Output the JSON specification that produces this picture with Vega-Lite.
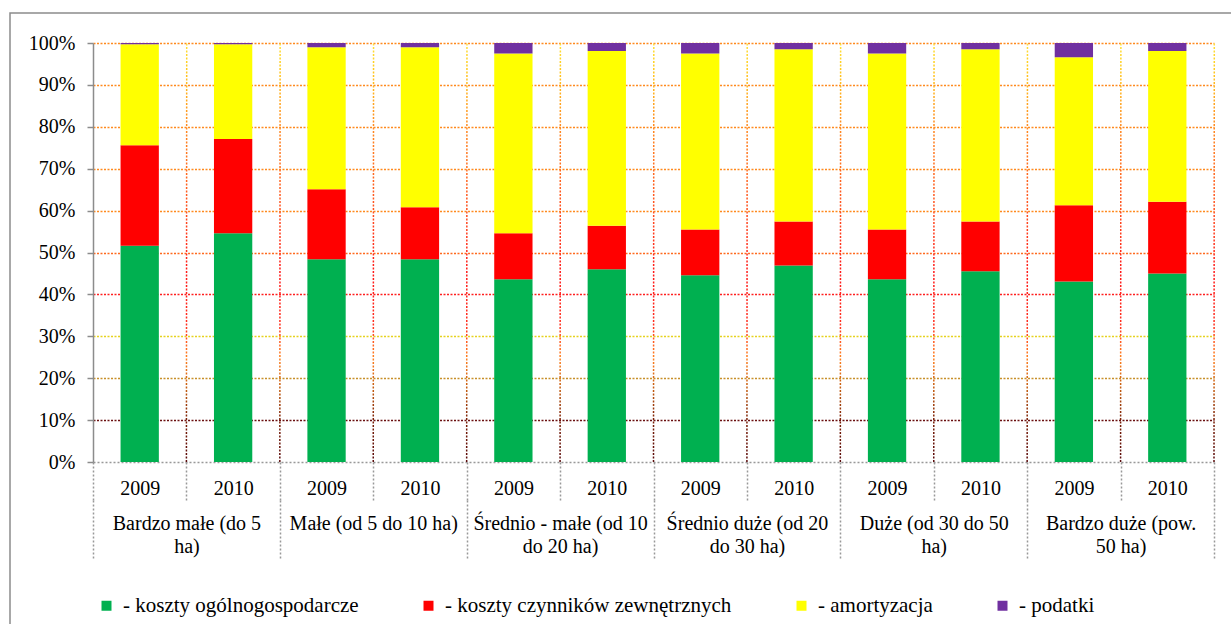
{
  "$schema": "https://vega.github.io/schema/vega-lite/v6.json",
  "width": 1224,
  "height": 614,
  "autosize": {"type": "none"},
  "padding": {"left": 10, "top": 13, "right": -3, "bottom": -3},
  "background": "white",
  "config": {
    "view": {"stroke": "#8c8c8c", "strokeWidth": 1.5},
    "font": "Liberation Serif",
    "axis": {"labelFont": "Liberation Serif", "labelFontSize": 20, "labelColor": "#000000"}
  },
  "data": {
    "values": [
      {"g": "Bardzo małe (do 5 ha)", "id": "a2009", "k": "koszty ogólnogospodarcze", "i": 1, "v": 51.6},
      {"g": "Bardzo małe (do 5 ha)", "id": "a2009", "k": "koszty czynników zewnętrznych", "i": 2, "v": 24.0},
      {"g": "Bardzo małe (do 5 ha)", "id": "a2009", "k": "amortyzacja", "i": 3, "v": 24.1},
      {"g": "Bardzo małe (do 5 ha)", "id": "a2009", "k": "podatki", "i": 4, "v": 0.3},
      {"g": "Bardzo małe (do 5 ha)", "id": "a2010", "k": "koszty ogólnogospodarcze", "i": 1, "v": 54.6},
      {"g": "Bardzo małe (do 5 ha)", "id": "a2010", "k": "koszty czynników zewnętrznych", "i": 2, "v": 22.5},
      {"g": "Bardzo małe (do 5 ha)", "id": "a2010", "k": "amortyzacja", "i": 3, "v": 22.6},
      {"g": "Bardzo małe (do 5 ha)", "id": "a2010", "k": "podatki", "i": 4, "v": 0.3},
      {"g": "Małe (od 5 do 10 ha)", "id": "b2009", "k": "koszty ogólnogospodarcze", "i": 1, "v": 48.4},
      {"g": "Małe (od 5 do 10 ha)", "id": "b2009", "k": "koszty czynników zewnętrznych", "i": 2, "v": 16.7},
      {"g": "Małe (od 5 do 10 ha)", "id": "b2009", "k": "amortyzacja", "i": 3, "v": 33.9},
      {"g": "Małe (od 5 do 10 ha)", "id": "b2009", "k": "podatki", "i": 4, "v": 1.0},
      {"g": "Małe (od 5 do 10 ha)", "id": "b2010", "k": "koszty ogólnogospodarcze", "i": 1, "v": 48.4},
      {"g": "Małe (od 5 do 10 ha)", "id": "b2010", "k": "koszty czynników zewnętrznych", "i": 2, "v": 12.4},
      {"g": "Małe (od 5 do 10 ha)", "id": "b2010", "k": "amortyzacja", "i": 3, "v": 38.2},
      {"g": "Małe (od 5 do 10 ha)", "id": "b2010", "k": "podatki", "i": 4, "v": 1.0},
      {"g": "Średnio - małe (od 10 do 20 ha)", "id": "c2009", "k": "koszty ogólnogospodarcze", "i": 1, "v": 43.6},
      {"g": "Średnio - małe (od 10 do 20 ha)", "id": "c2009", "k": "koszty czynników zewnętrznych", "i": 2, "v": 11.0},
      {"g": "Średnio - małe (od 10 do 20 ha)", "id": "c2009", "k": "amortyzacja", "i": 3, "v": 42.9},
      {"g": "Średnio - małe (od 10 do 20 ha)", "id": "c2009", "k": "podatki", "i": 4, "v": 2.5},
      {"g": "Średnio - małe (od 10 do 20 ha)", "id": "c2010", "k": "koszty ogólnogospodarcze", "i": 1, "v": 46.0},
      {"g": "Średnio - małe (od 10 do 20 ha)", "id": "c2010", "k": "koszty czynników zewnętrznych", "i": 2, "v": 10.4},
      {"g": "Średnio - małe (od 10 do 20 ha)", "id": "c2010", "k": "amortyzacja", "i": 3, "v": 41.7},
      {"g": "Średnio - małe (od 10 do 20 ha)", "id": "c2010", "k": "podatki", "i": 4, "v": 1.9},
      {"g": "Średnio duże (od 20 do 30 ha)", "id": "d2009", "k": "koszty ogólnogospodarcze", "i": 1, "v": 44.6},
      {"g": "Średnio duże (od 20 do 30 ha)", "id": "d2009", "k": "koszty czynników zewnętrznych", "i": 2, "v": 10.9},
      {"g": "Średnio duże (od 20 do 30 ha)", "id": "d2009", "k": "amortyzacja", "i": 3, "v": 42.0},
      {"g": "Średnio duże (od 20 do 30 ha)", "id": "d2009", "k": "podatki", "i": 4, "v": 2.5},
      {"g": "Średnio duże (od 20 do 30 ha)", "id": "d2010", "k": "koszty ogólnogospodarcze", "i": 1, "v": 46.9},
      {"g": "Średnio duże (od 20 do 30 ha)", "id": "d2010", "k": "koszty czynników zewnętrznych", "i": 2, "v": 10.5},
      {"g": "Średnio duże (od 20 do 30 ha)", "id": "d2010", "k": "amortyzacja", "i": 3, "v": 41.1},
      {"g": "Średnio duże (od 20 do 30 ha)", "id": "d2010", "k": "podatki", "i": 4, "v": 1.5},
      {"g": "Duże (od 30 do 50 ha)", "id": "e2009", "k": "koszty ogólnogospodarcze", "i": 1, "v": 43.6},
      {"g": "Duże (od 30 do 50 ha)", "id": "e2009", "k": "koszty czynników zewnętrznych", "i": 2, "v": 11.9},
      {"g": "Duże (od 30 do 50 ha)", "id": "e2009", "k": "amortyzacja", "i": 3, "v": 42.0},
      {"g": "Duże (od 30 do 50 ha)", "id": "e2009", "k": "podatki", "i": 4, "v": 2.5},
      {"g": "Duże (od 30 do 50 ha)", "id": "e2010", "k": "koszty ogólnogospodarcze", "i": 1, "v": 45.5},
      {"g": "Duże (od 30 do 50 ha)", "id": "e2010", "k": "koszty czynników zewnętrznych", "i": 2, "v": 11.9},
      {"g": "Duże (od 30 do 50 ha)", "id": "e2010", "k": "amortyzacja", "i": 3, "v": 41.1},
      {"g": "Duże (od 30 do 50 ha)", "id": "e2010", "k": "podatki", "i": 4, "v": 1.5},
      {"g": "Bardzo duże (pow. 50 ha)", "id": "f2009", "k": "koszty ogólnogospodarcze", "i": 1, "v": 43.1},
      {"g": "Bardzo duże (pow. 50 ha)", "id": "f2009", "k": "koszty czynników zewnętrznych", "i": 2, "v": 18.2},
      {"g": "Bardzo duże (pow. 50 ha)", "id": "f2009", "k": "amortyzacja", "i": 3, "v": 35.3},
      {"g": "Bardzo duże (pow. 50 ha)", "id": "f2009", "k": "podatki", "i": 4, "v": 3.4},
      {"g": "Bardzo duże (pow. 50 ha)", "id": "f2010", "k": "koszty ogólnogospodarcze", "i": 1, "v": 45.0},
      {"g": "Bardzo duże (pow. 50 ha)", "id": "f2010", "k": "koszty czynników zewnętrznych", "i": 2, "v": 17.1},
      {"g": "Bardzo duże (pow. 50 ha)", "id": "f2010", "k": "amortyzacja", "i": 3, "v": 36.0},
      {"g": "Bardzo duże (pow. 50 ha)", "id": "f2010", "k": "podatki", "i": 4, "v": 1.9}
    ]
  },
  "layer": [
    {
      "layer": [
        {
          "transform": [{"filter": "datum.i == 1"}],
          "mark": {
            "type": "rule",
            "strokeWidth": 1.5,
            "strokeDash": [2, 1.5],
            "x2Offset": 0.3,
            "stroke": {
              "gradient": "linear",
              "x1": 0, "y1": 1, "x2": 0, "y2": 0,
              "stops": [
                {"offset": 0, "color": "#5a0a0a"},
                {"offset": 0.1, "color": "#7a2008"},
                {"offset": 0.17, "color": "#c05a10"},
                {"offset": 0.25, "color": "#ff8020"},
                {"offset": 0.33, "color": "#ff3020"},
                {"offset": 0.45, "color": "#ff1a1a"},
                {"offset": 0.6, "color": "#ff5020"},
                {"offset": 0.8, "color": "#ff8a20"},
                {"offset": 0.95, "color": "#ffd020"},
                {"offset": 1, "color": "#ffe040"}
              ]
            }
          },
          "encoding": {
            "x": {
              "field": "id",
              "type": "nominal",
              "bandPosition": 1,
              "scale": {"type": "band", "paddingInner": 0, "paddingOuter": 0, "range": [83, 1204]},
              "axis": {
                "title": null,
                "orient": "bottom",
                "offset": -165,
                "labelExpr": "slice(datum.label, 1)",
                "labelAngle": 0,
                "tickBand": "extent",
                "tickSize": 38,
                "tickColor": "#999999",
                "tickDash": [2, 2],
                "tickWidth": 1.5,
                "domainColor": "#999999",
                "domainDash": [2, 2],
                "domainWidth": 1.5,
                "labelPadding": -22,
                "grid": false
              }
            },
            "x2": {"field": "id", "bandPosition": 1},
            "y": {"datum": 0, "type": "quantitative"},
            "y2": {"datum": 1}
          }
        },
        {
          "mark": {"type": "bar", "width": {"band": 0.41}},
          "encoding": {
            "x": {"field": "id", "type": "nominal"},
            "y": {
              "field": "v",
              "type": "quantitative",
              "stack": "normalize",
              "scale": {"domain": [0, 1], "nice": false, "range": [449, 30]},
              "axis": {
                "title": null,
                "offset": -83,
                "format": ".0%",
                "values": [0, 0.1, 0.2, 0.3, 0.4, 0.5, 0.6, 0.7, 0.8, 0.9, 1],
                "grid": true,
                "gridDash": [2, 1.5],
                "gridWidth": 1.5,
                "gridColor": {
                  "condition": [
                    {"test": "datum.value < 0.05", "value": "transparent"},
                    {"test": "datum.value < 0.15", "value": "#6b1010"},
                    {"test": "datum.value < 0.25", "value": "#c8902a"},
                    {"test": "datum.value < 0.35", "value": "#e6d21e"},
                    {"test": "datum.value < 0.45", "value": "#ff2020"},
                    {"test": "datum.value < 0.55", "value": "#ff6a1f"}
                  ],
                  "value": "#ff8a1f"
                },
                "domainColor": "#8c8c8c",
                "domainWidth": 1.5,
                "tickColor": "#8c8c8c",
                "tickSize": 6,
                "tickWidth": 1.5,
                "labelPadding": 12
              }
            },
            "color": {
              "field": "k",
              "type": "nominal",
              "scale": {
                "domain": ["koszty ogólnogospodarcze", "koszty czynników zewnętrznych", "amortyzacja", "podatki"],
                "range": ["#00B050", "#FF0000", "#FFFF00", "#7030A0"]
              },
              "legend": {
                "orient": "none",
                "legendX": 86,
                "legendY": 582,
                "padding": 0,
                "direction": "horizontal",
                "title": null,
                "symbolType": "square",
                "symbolSize": 100,
                "symbolStrokeWidth": 0,
                "symbolOpacity": 1,
                "labelFont": "Liberation Serif",
                "labelFontSize": 21,
                "labelColor": "#000000",
                "labelOffset": 6,
                "columnPadding": 59,
                "labelLimit": 400,
                "labelExpr": "'- ' + datum.label"
              }
            },
            "order": {"field": "i", "type": "quantitative"}
          }
        }
      ]
    },
    {
      "mark": {"type": "bar", "opacity": 0},
      "encoding": {
        "x": {
          "field": "g",
          "type": "nominal",
          "sort": null,
          "scale": {"type": "band", "paddingInner": 0, "paddingOuter": 0, "range": [83, 1204]},
          "axis": {
            "title": null,
            "orient": "bottom",
            "offset": -127,
            "domain": false,
            "tickBand": "extent",
            "tickSize": 60,
            "tickColor": "#999999",
            "tickDash": [2, 2],
            "tickWidth": 1.5,
            "labelAngle": 0,
            "labelOverlap": false,
            "labelBound": false,
            "labelLimit": 400,
            "labelLineHeight": 23,
            "labelPadding": -47,
            "labelExpr": "datum.label == 'Bardzo małe (do 5 ha)' ? ['Bardzo małe (do 5', 'ha)'] : datum.label == 'Średnio - małe (od 10 do 20 ha)' ? ['Średnio - małe (od 10', 'do 20 ha)'] : datum.label == 'Średnio duże (od 20 do 30 ha)' ? ['Średnio duże (od 20', 'do 30 ha)'] : datum.label == 'Duże (od 30 do 50 ha)' ? ['Duże (od 30 do 50', 'ha)'] : datum.label == 'Bardzo duże (pow. 50 ha)' ? ['Bardzo duże (pow.', '50 ha)'] : datum.label"
          }
        }
      }
    }
  ],
  "resolve": {"scale": {"x": "independent"}, "axis": {"x": "independent"}}
}
